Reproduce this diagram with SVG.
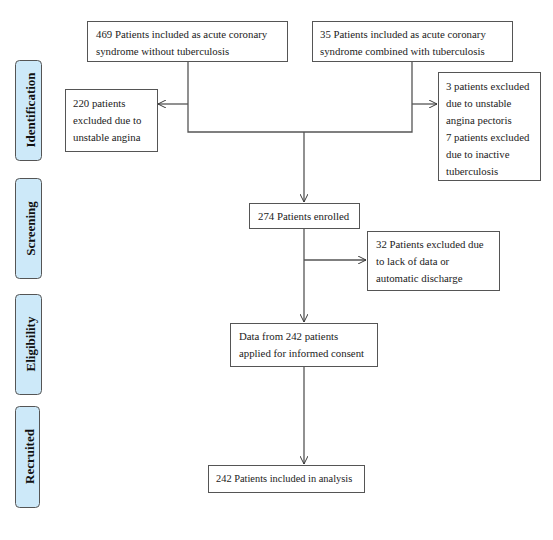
<svg xmlns="http://www.w3.org/2000/svg" width="553" height="540" viewBox="0 0 553 540">
<defs>
<marker id="arr" viewBox="0 0 10 10" refX="10" refY="5" markerWidth="8" markerHeight="8" markerUnits="userSpaceOnUse" orient="auto">
<path d="M0,0 L10,5 L0,10" fill="none" stroke="#333" stroke-width="1.2"/>
</marker>
</defs>
<style>
.box{fill:#fff;stroke:#555;stroke-width:1}
.t{font-family:"Liberation Serif","Times New Roman",serif;font-size:10.8px;fill:#222}
.lab{fill:#cde9f9;stroke:#555;stroke-width:1}
.lt{font-family:"Liberation Serif","Times New Roman",serif;font-size:13px;font-weight:bold;fill:#111}
.c{fill:none;stroke:#555;stroke-width:1.3}
</style>
<rect width="553" height="540" fill="#fff"/>
<g id="label-identification"><rect class="lab" x="15.5" y="60.5" width="26" height="100" rx="4"/><text class="lt" transform="translate(34.5,110) rotate(-90)" text-anchor="middle">Identification</text></g>
<g id="label-screening"><rect class="lab" x="15.5" y="178.5" width="26" height="100" rx="4"/><text class="lt" transform="translate(34.5,228.5) rotate(-90)" text-anchor="middle">Screening</text></g>
<g id="label-eligibility"><rect class="lab" x="15.5" y="294.5" width="26" height="100" rx="4"/><text class="lt" transform="translate(34.5,344) rotate(-90)" text-anchor="middle">Eligibility</text></g>
<g id="label-recruited"><rect class="lab" x="15.5" y="406.5" width="24" height="101" rx="4"/><text class="lt" transform="translate(33.5,456.5) rotate(-90)" text-anchor="middle">Recruited</text></g>
<g id="connectors">
<path class="c" d="M188,61 V132 H412 V61"/>
<path class="c" d="M188,104 H158" marker-end="url(#arr)"/>
<path class="c" d="M412,104 H437" marker-end="url(#arr)"/>
<path class="c" d="M304,132 V202" marker-end="url(#arr)"/>
<path class="c" d="M304,228 V322" marker-end="url(#arr)"/>
<path class="c" d="M304,260 H366" marker-end="url(#arr)"/>
<path class="c" d="M304,366 V464" marker-end="url(#arr)"/>
</g>
<g id="n-469"><rect class="box" x="87.5" y="21.5" width="200" height="40"/><text class="t" x="96" y="37.5">469 Patients included as acute coronary</text><text class="t" x="96" y="54.5">syndrome without tuberculosis</text></g>
<g id="n-35"><rect class="box" x="312.5" y="21.5" width="200" height="40"/><text class="t" x="320" y="37.5">35 Patients included as acute coronary</text><text class="t" x="320" y="54.5">syndrome combined with tuberculosis</text></g>
<g id="n-220"><rect class="box" x="65.5" y="89.5" width="92" height="62"/><text class="t" x="73" y="106.5">220 patients</text><text class="t" x="73" y="123.5">excluded due to</text><text class="t" x="73" y="140.5">unstable angina</text></g>
<g id="n-3-7"><rect class="box" x="438.5" y="72.5" width="102" height="108"/><text class="t" x="446" y="89.5">3 patients excluded</text><text class="t" x="446" y="106.5">due to unstable</text><text class="t" x="446" y="123.5">angina pectoris</text><text class="t" x="446" y="140.5">7 patients excluded</text><text class="t" x="446" y="157.5">due to inactive</text><text class="t" x="446" y="174.5">tuberculosis</text></g>
<g id="n-274"><rect class="box" x="249.5" y="203.5" width="110" height="25"/><text class="t" x="258" y="219.5">274 Patients enrolled</text></g>
<g id="n-32"><rect class="box" x="367.5" y="231.5" width="132" height="59"/><text class="t" x="376" y="248">32 Patients excluded due</text><text class="t" x="376" y="265">to lack of data or</text><text class="t" x="376" y="282">automatic discharge</text></g>
<g id="n-242data"><rect class="box" x="230.5" y="323.5" width="147" height="43"/><text class="t" x="239" y="340">Data from 242 patients</text><text class="t" x="239" y="357">applied for informed consent</text></g>
<g id="n-242"><rect class="box" x="208.5" y="465.5" width="156" height="27"/><text class="t" x="216" y="482" style="font-size:10.4px">242 Patients included in analysis</text></g>
</svg>
